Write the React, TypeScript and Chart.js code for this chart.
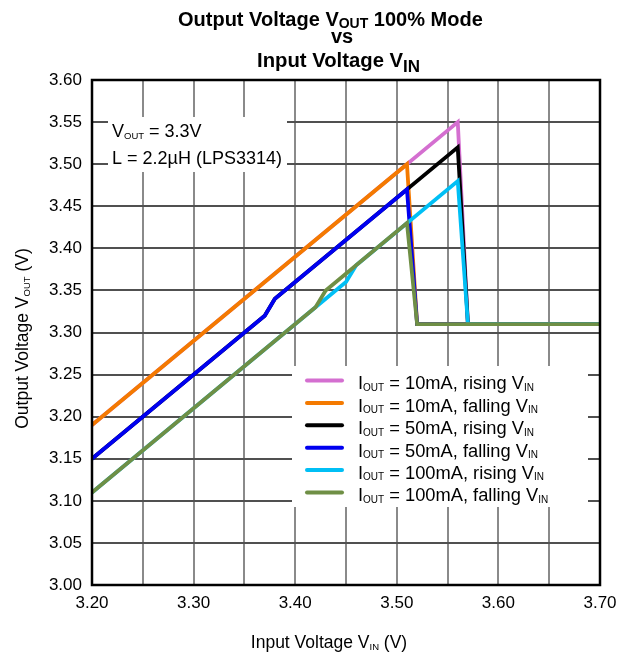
import React, { useEffect, useRef } from 'react';
import { Chart, registerables } from 'chart.js';

Chart.register(...registerables);

// ---- Data ----
const vin10Rising = [3.2, 3.56, 3.57, 3.7];
const vout10Rising = [3.19, 3.55, 3.31, 3.31];

const vin10Falling = [3.2, 3.51, 3.52, 3.7];
const vout10Falling = [3.19, 3.5, 3.31, 3.31];

const vin50Rising = [3.2, 3.37, 3.38, 3.56, 3.57, 3.7];
const vout50Rising = [3.15, 3.32, 3.34, 3.52, 3.31, 3.31];

const vin50Falling = [3.2, 3.37, 3.38, 3.51, 3.52, 3.7];
const vout50Falling = [3.15, 3.32, 3.34, 3.47, 3.31, 3.31];

const vin100Rising = [3.2, 3.42, 3.45, 3.46, 3.56, 3.57, 3.7];
const vout100Rising = [3.11, 3.33, 3.36, 3.38, 3.48, 3.31, 3.31];

const vin100Falling = [3.2, 3.42, 3.43, 3.51, 3.52, 3.7];
const vout100Falling = [3.11, 3.33, 3.35, 3.43, 3.31, 3.31];

const seriesCurrents = ['10mA', '10mA', '50mA', '50mA', '100mA', '100mA'];
const seriesDirections = ['rising', 'falling', 'rising', 'falling', 'rising', 'falling'];
const seriesColors = ['#D46FD0', '#F47A00', '#000000', '#0000F0', '#00BFF5', '#6F8F45'];

const xMin = 3.2;
const xMax = 3.7;
const yMin = 3.0;
const yMax = 3.6;
const tickStep = 0.05;

const FONT = '"Liberation Sans", Arial, Helvetica, sans-serif';

type Part = { t: string; sub?: boolean };

function drawRich(
  ctx: CanvasRenderingContext2D,
  parts: Part[],
  x: number,
  y: number,
  size: number,
  subSize: number,
  subDy: number,
  bold: boolean,
  align: 'left' | 'center'
) {
  const f = (s: number) => `${bold ? 'bold ' : ''}${s}px ${FONT}`;
  const widths = parts.map((p) => {
    ctx.font = f(p.sub ? subSize : size);
    return ctx.measureText(p.t).width;
  });
  const total = widths.reduce((a, b) => a + b, 0);
  let cx = align === 'center' ? x - total / 2 : x;
  ctx.textAlign = 'left';
  ctx.textBaseline = 'alphabetic';
  parts.forEach((p, i) => {
    ctx.font = f(p.sub ? subSize : size);
    ctx.fillText(p.t, cx, y + (p.sub ? subDy : 0));
    cx += widths[i];
  });
}

const decorPlugin = {
  id: 'decor',
  beforeDatasetsDraw(chart: any) {
    const ctx: CanvasRenderingContext2D = chart.ctx;
    ctx.save();
    ctx.fillStyle = '#ffffff';
    // annotation background
    ctx.fillRect(108, 117, 179, 55);
    // legend background
    ctx.fillRect(292, 366, 296, 141);
    ctx.restore();
  },
  afterDatasetsDraw(chart: any) {
    const ctx: CanvasRenderingContext2D = chart.ctx;
    const a = chart.chartArea;
    ctx.save();
    ctx.strokeStyle = '#000';
    ctx.lineWidth = 2.5;
    ctx.strokeRect(a.left, a.top, a.right - a.left, a.bottom - a.top);
    ctx.restore();
  },
  afterDraw(chart: any) {
    const ctx: CanvasRenderingContext2D = chart.ctx;
    const a = chart.chartArea;
    ctx.save();
    ctx.fillStyle = '#000';

    // Title
    drawRich(ctx, [{ t: 'Output Voltage V' }, { t: 'OUT', sub: true }, { t: ' 100% Mode' }], 178, 25.5, 20, 14, 2.5, true, 'left');
    drawRich(ctx, [{ t: 'vs' }], 342, 43, 20, 14, 3, true, 'center');
    drawRich(ctx, [{ t: 'Input Voltage V' }, { t: 'IN', sub: true }], 257, 66.5, 20.3, 17, 5, true, 'left');

    // Annotation
    drawRich(ctx, [{ t: 'V' }, { t: 'OUT', sub: true }, { t: ' = 3.3V' }], 112, 137, 18, 9.5, 1.5, false, 'left');
    drawRich(ctx, [{ t: 'L = 2.2\u00B5H (LPS3314)' }], 112, 164, 18, 9.5, 1.5, false, 'left');

    // X axis title
    drawRich(ctx, [{ t: 'Input Voltage V' }, { t: 'IN', sub: true }, { t: ' (V)' }], (a.left + a.right) / 2 - 17, 648, 17.5, 9.5, 1.5, false, 'center');

    // Y axis title (rotated)
    ctx.save();
    ctx.translate(28, (a.top + a.bottom) / 2 + 6);
    ctx.rotate(-Math.PI / 2);
    drawRich(ctx, [{ t: 'Output Voltage V' }, { t: 'OUT', sub: true }, { t: ' (V)' }], 0, 0, 17.5, 9.5, 1.5, false, 'center');
    ctx.restore();

    // Legend
    const legendTop = 380.5;
    const legendStep = 22.4;
    for (let i = 0; i < seriesColors.length; i++) {
      const cy = legendTop + i * legendStep;
      ctx.strokeStyle = seriesColors[i];
      ctx.lineWidth = 4;
      ctx.lineCap = 'round';
      ctx.beginPath();
      ctx.moveTo(307, cy);
      ctx.lineTo(342, cy);
      ctx.stroke();
      drawRich(
        ctx,
        [
          { t: 'I' },
          { t: 'OUT', sub: true },
          { t: ` = ${seriesCurrents[i]}, ${seriesDirections[i]} V` },
          { t: 'IN', sub: true },
        ],
        358,
        cy + 8.8,
        18.3,
        10,
        1.5,
        false,
        'left'
      );
    }
    ctx.restore();
  },
};

function pts(xs: number[], ys: number[]) {
  return xs.map((x, i) => ({ x, y: ys[i] }));
}

export default function App() {
  const canvasRef = useRef<HTMLCanvasElement | null>(null);

  useEffect(() => {
    const canvas = canvasRef.current;
    if (!canvas) return;
    const seriesData = [
      pts(vin10Rising, vout10Rising),
      pts(vin10Falling, vout10Falling),
      pts(vin50Rising, vout50Rising),
      pts(vin50Falling, vout50Falling),
      pts(vin100Rising, vout100Rising),
      pts(vin100Falling, vout100Falling),
    ];
    const chart = new Chart(canvas, {
      type: 'line',
      data: {
        datasets: seriesData.map((d, i) => ({
          label: `IOUT = ${seriesCurrents[i]}, ${seriesDirections[i]} VIN`,
          data: d,
          borderColor: seriesColors[i],
          backgroundColor: seriesColors[i],
          borderWidth: 3.8,
          pointRadius: 0,
          tension: 0,
          fill: false,
          borderJoinStyle: 'miter' as const,
          order: seriesColors.length - i,
        })),
      },
      options: {
        responsive: false,
        animation: false,
        layout: { padding: { top: 80, right: 28, left: 0, bottom: 0 } },
        plugins: {
          legend: { display: false },
          title: { display: false },
          tooltip: { enabled: false },
        },
        scales: {
          x: {
            type: 'linear',
            min: xMin,
            max: xMax,
            afterFit: (s: any) => {
              s.height = 68;
            },
            border: { display: false },
            grid: { color: '#8a8a8a', lineWidth: 2, drawTicks: false },
            ticks: {
              stepSize: tickStep,
              autoSkip: false,
              maxRotation: 0,
              padding: 8,
              color: '#000',
              font: { family: FONT, size: 17 },
              callback: (v: any) => {
                const k = Math.round(Number(v) * 100);
                return k % 10 === 0 ? (k / 100).toFixed(2) : '';
              },
            },
          },
          y: {
            type: 'linear',
            min: yMin,
            max: yMax,
            afterFit: (s: any) => {
              s.width = 92;
            },
            border: { display: false },
            grid: { color: '#505050', lineWidth: 2, drawTicks: false },
            ticks: {
              stepSize: tickStep,
              autoSkip: false,
              padding: 10,
              color: '#000',
              font: { family: FONT, size: 17 },
              callback: (v: any) => Number(v).toFixed(2),
            },
          },
        },
      },
      plugins: [decorPlugin],
    });
    return () => chart.destroy();
  }, []);

  return (
    <div style={{ position: 'fixed', left: 0, top: 0, width: 628, height: 653, background: '#fff' }}>
      <canvas ref={canvasRef} width={628} height={653} style={{ display: 'block' }} />
    </div>
  );
}
